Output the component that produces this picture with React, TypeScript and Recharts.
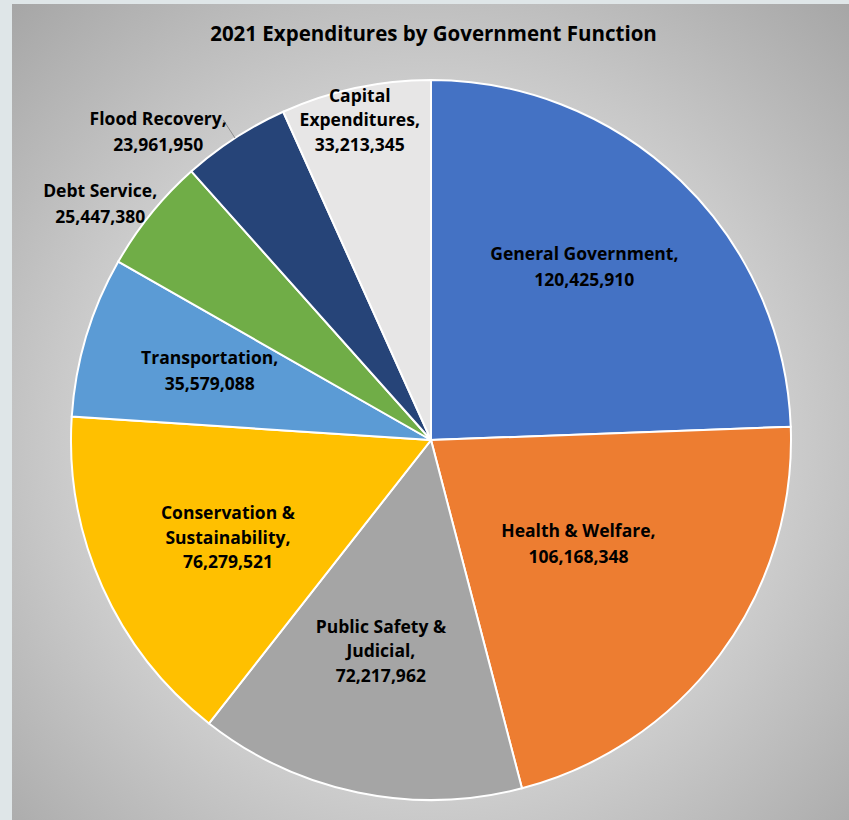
import React from 'react';
import { PieChart, Pie, Cell } from 'recharts';

// values
const categories = [
  'General Government',
  'Health & Welfare',
  'Public Safety & Judicial',
  'Conservation & Sustainability',
  'Transportation',
  'Debt Service',
  'Flood Recovery',
  'Capital Expenditures',
];
const values = [120425910, 106168348, 72217962, 76279521, 35579088, 25447380, 23961950, 33213345];
const labelLines = [
  ['General Government,'],
  ['Health & Welfare,'],
  ['Public Safety &', 'Judicial,'],
  ['Conservation &', 'Sustainability,'],
  ['Transportation,'],
  ['Debt Service,'],
  ['Flood Recovery,'],
  ['Capital', 'Expenditures,'],
];
const colors = ['#4472C4', '#ED7D31', '#A5A5A5', '#FFC000', '#5B9BD5', '#70AD47', '#264478', '#E7E6E6'];

// where each label sits: fraction of radius and a small angle nudge (deg, clockwise)
const labelRadius = [0.645, 0.5, 0.6, 0.625, 0.645, 1.13, 1.144, 0.913];
const labelShift = [-2.6, -1.6, 1.7, -1.4, 0.9, -3.4, -8.5, -0.4];
const leader = [false, false, false, false, false, false, true, false];

const data = categories.map((name, i) => ({ name, value: values[i] }));
const FONT = '"Open Sans", Lato, sans-serif';
const RAD = Math.PI / 180;

const renderLabel = (props: any) => {
  const { cx, cy, midAngle, outerRadius, index } = props;
  const cw = 90 - midAngle + labelShift[index];
  const r = outerRadius * labelRadius[index];
  const x = cx + r * Math.sin(cw * RAD);
  const y = cy - r * Math.cos(cw * RAD);
  const lines = [...labelLines[index], values[index].toLocaleString('en-US')];
  const lh = lines.length > 2 ? 24.5 : 26;
  const top = y - ((lines.length - 1) * lh) / 2;
  const m = (90 - midAngle) * RAD;
  return (
    <g key={`lbl-${index}`}>
      {leader[index] && (
        <line
          x1={cx + outerRadius * Math.sin(m)}
          y1={cy - outerRadius * Math.cos(m)}
          x2={cx + outerRadius * 1.06 * Math.sin(m)}
          y2={cy - outerRadius * 1.06 * Math.cos(m)}
          stroke="#8c8c8c"
          strokeWidth={1}
        />
      )}
      <text
        textAnchor="middle"
        dominantBaseline="central"
        fontFamily={FONT}
        fontWeight="bold"
        fontSize={17.5}
        fill="#000"
      >
        {lines.map((t, k) => (
          <tspan key={k} x={x} y={top + k * lh}>
            {t}
          </tspan>
        ))}
      </text>
    </g>
  );
};

export default function App() {
  return (
    <div style={{ position: 'absolute', left: 0, top: 0, width: 849, height: 820, background: '#dfe6e8', overflow: 'hidden' }}>
      <div
        style={{
          position: 'absolute',
          left: 12,
          top: 4,
          width: 837,
          height: 816,
          background: 'radial-gradient(circle farthest-corner at 50% 54%, #ececec 0%, #e2e2e2 35%, #a6a6a6 100%)',
        }}
      >
        <div
          style={{
            position: 'absolute',
            left: 0,
            top: 15,
            width: 843,
            textAlign: 'center',
            fontFamily: FONT,
            fontWeight: 'bold',
            fontSize: 20.5,
            color: '#000',
          }}
        >
          2021 Expenditures by Government Function
        </div>
        <PieChart
          width={837}
          height={816}
          margin={{ top: 0, right: 0, bottom: 0, left: 0 }}
          style={{ position: 'absolute', left: 0, top: 0 }}
        >
          <Pie
            data={data}
            dataKey="value"
            nameKey="name"
            cx={419}
            cy={436}
            outerRadius={360}
            startAngle={90}
            endAngle={-270}
            stroke="#fff"
            strokeWidth={2}
            label={renderLabel}
            labelLine={false}
            isAnimationActive={false}
          >
            {data.map((d, i) => (
              <Cell key={d.name} fill={colors[i]} />
            ))}
          </Pie>
        </PieChart>
      </div>
    </div>
  );
}
